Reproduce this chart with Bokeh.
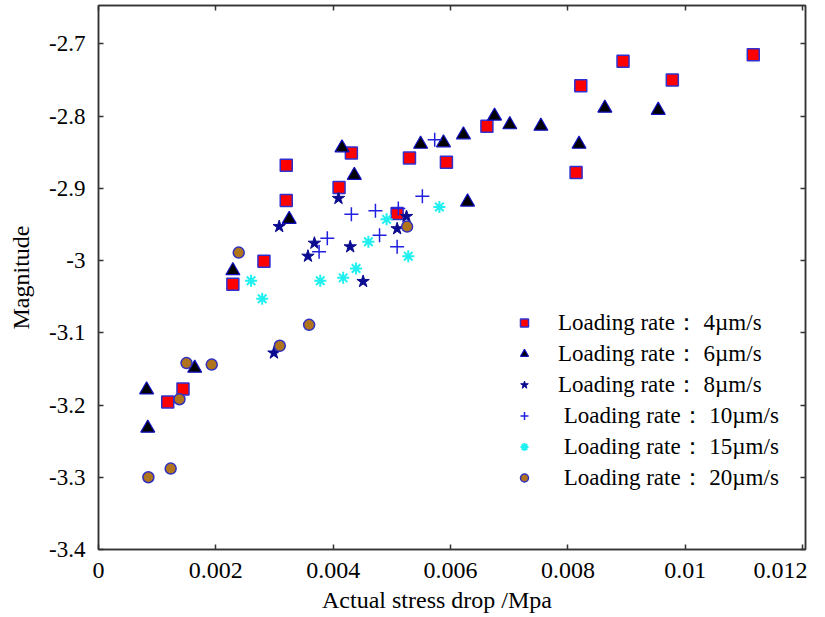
from bokeh.plotting import figure
from bokeh.models import Range1d, FixedTicker, LinearAxis
from bokeh.embed import file_html
from bokeh.resources import INLINE

# Loading rate 4 um/s
x_4 = [0.01116, 0.00894, 0.00978, 0.00822, 0.00662, 0.00530, 0.00593, 0.00814, 0.00320,
       0.00431, 0.00410, 0.00320, 0.00509, 0.00282, 0.00229, 0.00144, 0.00118]
y_4 = [-2.715, -2.724, -2.750, -2.758, -2.814, -2.858, -2.864, -2.878, -2.868,
       -2.851, -2.899, -2.917, -2.935, -3.001, -3.033, -3.178, -3.196]
# Loading rate 6 um/s
x_6 = [0.00863, 0.00954, 0.00675, 0.00701, 0.00754, 0.00622, 0.00549, 0.00588, 0.00819,
       0.00629, 0.00415, 0.00436, 0.00325, 0.00229, 0.00164, 0.00082, 0.00084]
y_6 = [-2.789, -2.792, -2.800, -2.812, -2.814, -2.826, -2.839, -2.837, -2.839,
       -2.919, -2.844, -2.882, -2.943, -3.014, -3.149, -3.179, -3.232]
# Loading rate 8 um/s
x_8 = [0.00409, 0.00308, 0.00525, 0.00509, 0.00368, 0.00429, 0.00357, 0.00451, 0.00299]
y_8 = [-2.914, -2.953, -2.939, -2.956, -2.976, -2.981, -2.994, -3.029, -3.128]
# Loading rate 10 um/s
x_10 = [0.00573, 0.00552, 0.00431, 0.00472, 0.00511, 0.00479, 0.00390, 0.00376, 0.00509]
y_10 = [-2.833, -2.911, -2.936, -2.931, -2.928, -2.965, -2.969, -2.988, -2.981]
# Loading rate 15 um/s
x_15 = [0.00581, 0.00491, 0.00460, 0.00528, 0.00439, 0.00417, 0.00378, 0.00260, 0.00279]
y_15 = [-2.926, -2.943, -2.974, -2.994, -3.011, -3.024, -3.028, -3.028, -3.053]
# Loading rate 20 um/s
x_20 = [0.00526, 0.00239, 0.00359, 0.00309, 0.00150, 0.00193, 0.00138, 0.00123, 0.00085]
y_20 = [-2.953, -2.989, -3.089, -3.118, -3.142, -3.144, -3.192, -3.288, -3.300]

NB = "\u00a0"
series_labels = ["Loading rate： 4µm/s",
                 "Loading rate： 6µm/s",
                 "Loading rate： 8µm/s",
                 NB + "Loading rate： 10µm/s",
                 NB + "Loading rate： 15µm/s",
                 NB + "Loading rate： 20µm/s"]

xticks = [0, 0.002, 0.004, 0.006, 0.008, 0.01, 0.012]
xtick_labels = ["0", "0.002", "0.004", "0.006", "0.008", "0.01",
                "0.012" + NB * 3]
yticks = [-3.4, -3.3, -3.2, -3.1, -3.0, -2.9, -2.8, -2.7]
ytick_labels = ["-3.4", "-3.3", "-3.2", "-3.1", "-3", "-2.9", "-2.8", "-2.7"]

FONT = "Liberation Serif"
AXC = "#333333"

p = figure(width=825, height=617, output_backend="svg", toolbar_location=None,
           x_range=Range1d(0, 0.01205), y_range=Range1d(-3.4, -2.647),
           min_border_left=98, min_border_right=20, min_border_top=5, min_border_bottom=68)
p.grid.visible = False
p.outline_line_color = AXC
p.outline_line_width = 1.5
p.background_fill_color = "white"

p.xaxis.ticker = FixedTicker(ticks=xticks)
p.xaxis.major_label_overrides = dict(zip(xticks, xtick_labels))
p.yaxis.ticker = FixedTicker(ticks=yticks)
p.yaxis.major_label_overrides = dict(zip(yticks, ytick_labels))
p.xaxis.axis_label = "Actual stress drop /Mpa" + NB * 5
p.yaxis.axis_label = "Magnitude"
for ax in (p.xaxis, p.yaxis):
    ax.major_tick_in = 5
    ax.major_tick_out = 0
    ax.minor_tick_line_color = None
    ax.axis_line_color = AXC
    ax.axis_line_width = 1.5
    ax.major_tick_line_color = AXC
    ax.major_tick_line_width = 1.5
    ax.major_label_text_font = FONT
    ax.major_label_text_font_size = "23px"
    ax.major_label_text_color = "black"
    ax.axis_label_text_font = FONT
    ax.axis_label_text_font_size = "24px"
    ax.axis_label_text_font_style = "normal"
    ax.axis_label_text_color = "black"
p.xaxis.major_label_text_font_size = "24px"
p.xaxis.major_label_standoff = 7
p.xaxis.axis_label_standoff = 1
p.yaxis.major_label_standoff = 13
p.yaxis.axis_label_standoff = 12

blank_x = {t: "" for t in xticks}
blank_y = {t: "" for t in yticks}
top = LinearAxis(ticker=FixedTicker(ticks=xticks), major_label_overrides=blank_x,
                 major_label_text_font_size="1px",
                 major_label_standoff=0, major_tick_in=5, major_tick_out=0,
                 minor_tick_line_color=None, axis_line_color=AXC, axis_line_width=1.5,
                 major_tick_line_color=AXC, major_tick_line_width=1.5)
right = LinearAxis(ticker=FixedTicker(ticks=yticks), major_label_overrides=blank_y,
                   major_label_text_font_size="1px",
                   major_label_standoff=0, major_tick_in=5, major_tick_out=0,
                   minor_tick_line_color=None, axis_line_color=AXC, axis_line_width=1.5,
                   major_tick_line_color=AXC, major_tick_line_width=1.5)
p.add_layout(top, "above")
p.add_layout(right, "right")

p.scatter(x_4, y_4, marker="square", size=12, fill_color="#FF0000", line_color="#3030D0",
          line_width=1.5, legend_label=series_labels[0])
p.scatter(x_6, y_6, marker="triangle", size=14, fill_color="black", line_color="#1010C0",
          line_width=1.2, legend_label=series_labels[1])
p.scatter(x_8, y_8, marker="star", size=13, fill_color="#0A0A90", line_color="#0A0A90",
          line_width=1, legend_label=series_labels[2])
p.scatter(x_10, y_10, marker="cross", size=14, line_color="#2020E0",
          line_width=1.5, legend_label=series_labels[3])
p.scatter(x_15, y_15, marker="asterisk", size=12, line_color="#20F0F0",
          line_width=2, legend_label=series_labels[4])
p.scatter(x_20, y_20, marker="circle", size=11, fill_color="#B0741C", line_color="#3030C0",
          line_width=1.5, legend_label=series_labels[5])

lg = p.legend[0]
lg.location = (416, 56)
lg.border_line_color = None
lg.background_fill_alpha = 0
lg.label_text_font = FONT
lg.label_text_font_size = "23px"
lg.label_text_color = "black"
lg.glyph_width = 20
lg.glyph_height = 31
lg.label_height = 31
lg.label_standoff = 24
lg.spacing = 0
lg.padding = 0
lg.margin = 0

open("out.html", "w").write(file_html(p, INLINE))
